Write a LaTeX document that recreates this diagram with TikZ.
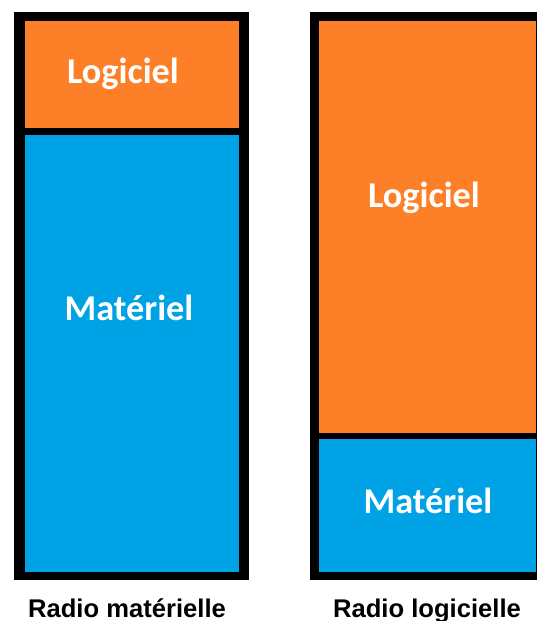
\documentclass[tikz,border=0pt]{standalone}
\usepackage{fontspec}
\setmainfont{Carlito}
\newfontfamily\arialfont{Liberation Sans}
\definecolor{swOrange}{HTML}{FD7F28}
\definecolor{hwBlue}{HTML}{00A2E6}
\tikzset{
  frame/.style={fill=black},
  swpart/.style={fill=swOrange},
  hwpart/.style={fill=hwBlue},
  inlabel/.style={text=white, font=\bfseries\fontsize{36.3}{40}\selectfont, inner sep=0pt, anchor=base},
  caption/.style={text=black, font=\arialfont\bfseries\fontsize{25.6}{28}\selectfont, inner sep=0pt, anchor=base}
}
\begin{document}
\begin{tikzpicture}[x=1pt,y=-1pt]
\useasboundingbox (0,0) rectangle (537,621);
% left radio (hardware)
\path[frame] (14,12) rectangle (249,580);
\path[swpart] (25,21) rectangle (239,128);
\path[hwpart] (25,135) rectangle (239,572);
% right radio (software)
\path[frame] (310,12) rectangle (537,580);
\path[swpart] (319,21) rectangle (536,433);
\path[hwpart] (319,439) rectangle (536,572);
% labels
\node[inlabel] (l1) at (123,83) {Logiciel};
\node[inlabel] (m1) at (129,320) {Matériel};
\node[inlabel] (l2) at (424,207) {Logiciel};
\node[inlabel] (m2) at (428,513) {Matériel};
\node[caption] (c1) at (127,617) {Radio matérielle};
\node[caption] (c2) at (427,617) {Radio logicielle};
\end{tikzpicture}
\end{document}
